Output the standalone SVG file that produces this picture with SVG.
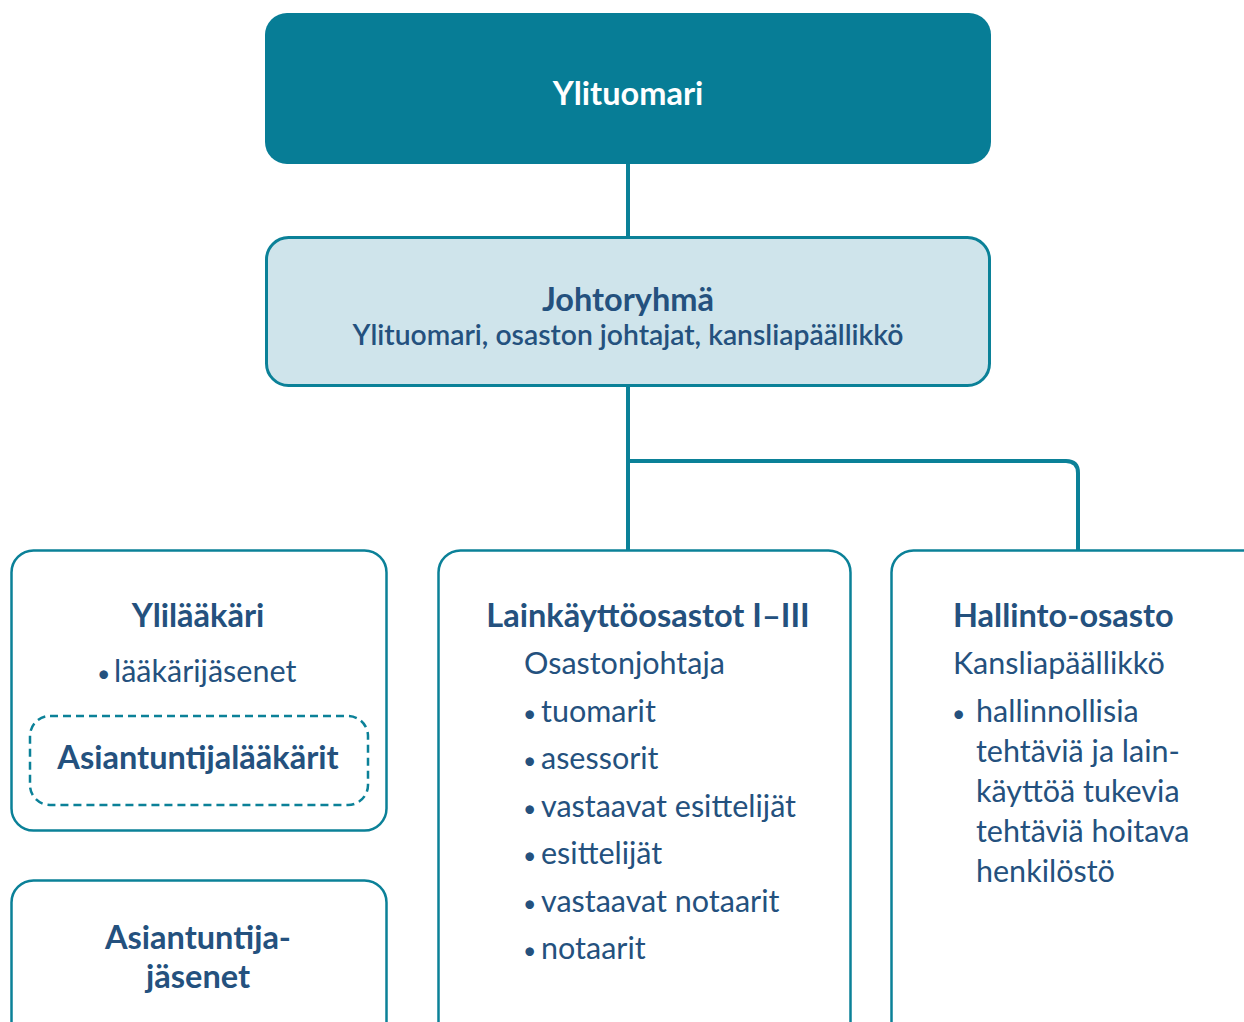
<svg xmlns="http://www.w3.org/2000/svg" width="1244" height="1022" viewBox="0 0 1244 1022">
<style>
.box{fill:#ffffff;stroke:#0b8198;stroke-width:2.5}
.t{font-family:Lato,"Noto Sans","Liberation Sans",sans-serif;fill:#24517e}
.b{font-weight:700;font-size:32.5px}
.r{font-weight:400;font-size:30.5px}
.c{text-anchor:middle}
.d{font-size:23px}
.line{fill:none;stroke:#0b8198;stroke-width:4}
</style>
<rect width="1244" height="1022" fill="#ffffff"/>
<g id="connectors">
<path class="line" d="M628 164 V237"/>
<path class="line" d="M628 386 V550"/>
<path class="line" d="M628 461 H1066 Q1078 461 1078 473 V550"/>
</g>
<g id="ylituomari">
<rect x="265" y="13" width="726" height="151" rx="22" fill="#077d96"/>
<text class="t b c" x="628" y="105" style="fill:#ffffff">Ylituomari</text>
</g>
<g id="johtoryhma">
<rect x="266.5" y="237.5" width="723" height="148" rx="22" fill="#cfe4eb" stroke="#0b8198" stroke-width="3"/>
<text class="t b c" x="628" y="311">Johtoryhmä</text>
<text class="t c" x="628" y="345" font-weight="600" font-size="28.3">Ylituomari, osaston johtajat, kansliapäällikkö</text>
</g>
<g id="ylilaakari">
<rect class="box" x="11.5" y="550.5" width="375" height="280" rx="22"/>
<text class="t b c" x="198" y="627">Ylilääkäri</text>
<text class="t r" x="97" y="682"><tspan class="d">•</tspan><tspan x="114">lääkärijäsenet</tspan></text>
</g>
<g id="asiantuntijalaakarit">
<rect x="30" y="716" width="338" height="89" rx="20" fill="none" stroke="#0b8198" stroke-width="2.5" stroke-dasharray="8 5"/>
<text class="t b c" x="198" y="769">Asiantuntijalääkärit</text>
</g>
<g id="asiantuntijajasenet">
<rect class="box" x="11.5" y="880.5" width="375" height="170" rx="22"/>
<text class="t b c" x="198" y="949">Asiantuntija-</text>
<text class="t b c" x="198" y="988">jäsenet</text>
</g>
<g id="lainkayttoosastot">
<rect class="box" x="438.5" y="550.5" width="412" height="520" rx="22"/>
<text class="t b c" x="648" y="627">Lainkäyttöosastot I–III</text>
<text class="t r" x="524" y="674">Osastonjohtaja</text>
<text class="t r" x="523" y="722"><tspan class="d">•</tspan><tspan x="541">tuomarit</tspan></text>
<text class="t r" x="523" y="769"><tspan class="d">•</tspan><tspan x="541">asessorit</tspan></text>
<text class="t r" x="523" y="817"><tspan class="d">•</tspan><tspan x="541">vastaavat esittelijät</tspan></text>
<text class="t r" x="523" y="864"><tspan class="d">•</tspan><tspan x="541">esittelijät</tspan></text>
<text class="t r" x="523" y="912"><tspan class="d">•</tspan><tspan x="541">vastaavat notaarit</tspan></text>
<text class="t r" x="523" y="959"><tspan class="d">•</tspan><tspan x="541">notaarit</tspan></text>
</g>
<g id="hallinto-osasto">
<rect class="box" x="891.5" y="550.5" width="400" height="520" rx="22"/>
<text class="t b" x="953" y="627">Hallinto-osasto</text>
<text class="t r" x="953" y="674">Kansliapäällikkö</text>
<text class="t r d" x="952" y="722">•</text>
<text class="t r" x="976" y="722">hallinnollisia</text>
<text class="t r" x="976" y="762">tehtäviä ja lain-</text>
<text class="t r" x="976" y="802">käyttöä tukevia</text>
<text class="t r" x="976" y="842">tehtäviä hoitava</text>
<text class="t r" x="976" y="882">henkilöstö</text>
</g>
</svg>
